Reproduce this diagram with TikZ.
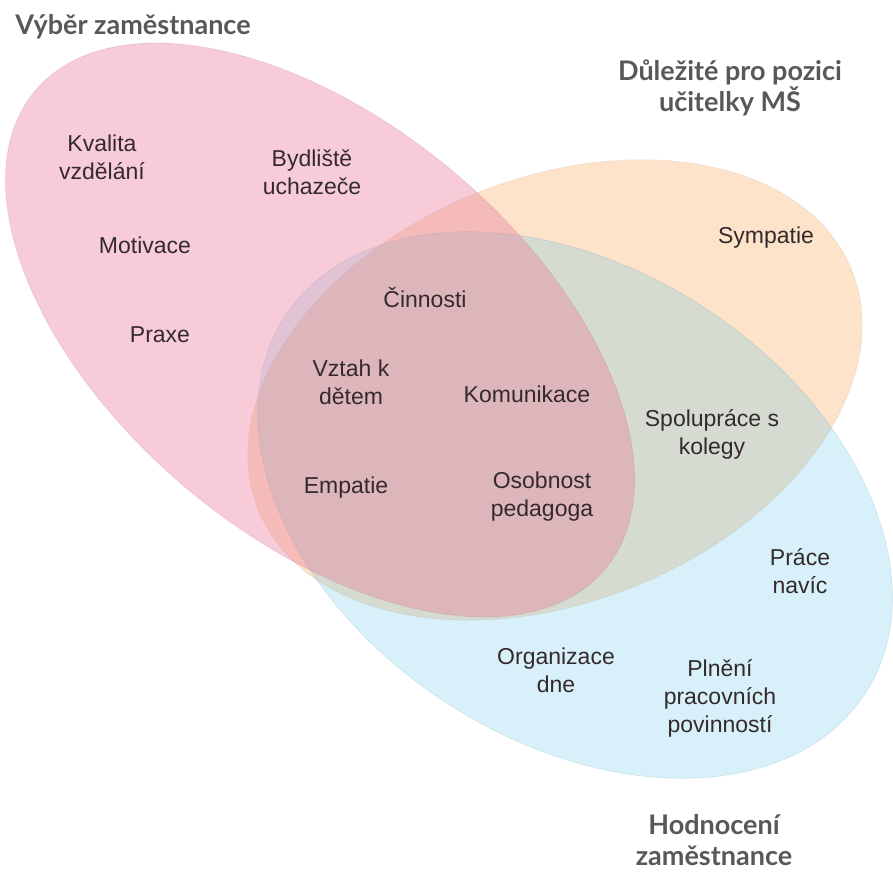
\documentclass[tikz,border=0pt]{standalone}
\usepackage{fontspec}
\setmainfont{Liberation Sans}
\newfontfamily\latofont{Lato}
\usepackage{xcolor}
\definecolor{vnorange}{RGB}{252,227,202}
\definecolor{vnblue}{RGB}{100,196,232}
\definecolor{vnpink}{RGB}{235,127,157}
\definecolor{vntext}{RGB}{52,42,44}
\definecolor{vngray}{RGB}{88,88,88}
\usetikzlibrary{shapes.geometric}

\begin{document}
\begin{tikzpicture}[x=1pt, y=-1pt]
    \tikzset{setblob/.style={ellipse, inner sep=0pt, line width=0.8pt, draw opacity=0.15},
      item/.style={font=\fontsize{23}{28}\selectfont, text=vntext, align=center},
      settitle/.style={font=\latofont\bfseries\fontsize{27}{31}\selectfont, text=vngray, align=center, inner sep=1pt}}
    \useasboundingbox (0,0) rectangle (893,872);

    % Set: Dulezite pro pozici (orange)
    \node[setblob, fill=vnorange, draw=vnorange!70!black, minimum width=640pt, minimum height=424pt, rotate=22] (sPozice) at (555,390) {};
    % Set: Hodnoceni (blue)
    \node[setblob, fill=vnblue, fill opacity=0.25, draw=vnblue!70!black, minimum width=692pt, minimum height=472pt, rotate=-33] (sHodnoceni) at (575,505) {};
    % Set: Vyber (pink)
    \node[setblob, fill=vnpink, fill opacity=0.4, draw=vnpink!70!black, minimum width=744pt, minimum height=414pt, rotate=-40] (sVyber) at (320,330) {};

    % Titles
    \node[settitle] (tVyber) at (133,27) {Výběr zaměstnance};
    \node[settitle] (tPozice) at (730,88) {Důležité pro pozici\\učitelky MŠ};
    \node[settitle] (tHodnoceni) at (714,840) {Hodnocení\\zaměstnance};

    % Vyber only
    \node[item] (kvalita) at (102,157) {Kvalita\\vzdělání};
    \node[item] (bydliste) at (312,172) {Bydliště\\uchazeče};
    \node[item] (motivace) at (145,245) {Motivace};
    \node[item] (praxe) at (160,335) {Praxe};

    % All three
    \node[item] (cinnosti) at (425,298) {Činnosti};
    \node[item] (vztah) at (351,382) {Vztah k\\dětem};
    \node[item] (komunikace) at (527,394) {Komunikace};
    \node[item] (empatie) at (346,488) {Empatie};
    \node[item] (osobnost) at (542,497) {Osobnost\\pedagoga};

    % Pozice and Hodnoceni
    \node[item] (sympatie) at (766,238) {Sympatie};
    \node[item] (spoluprace) at (712,434) {Spolupráce s\\kolegy};

    % Hodnoceni only
    \node[item] (prace) at (800,571) {Práce\\navíc};
    \node[item] (organizace) at (556,670) {Organizace\\dne};
    \node[item] (plneni) at (720,698) {Plnění\\pracovních\\povinností};
  \end{tikzpicture}
\end{document}
